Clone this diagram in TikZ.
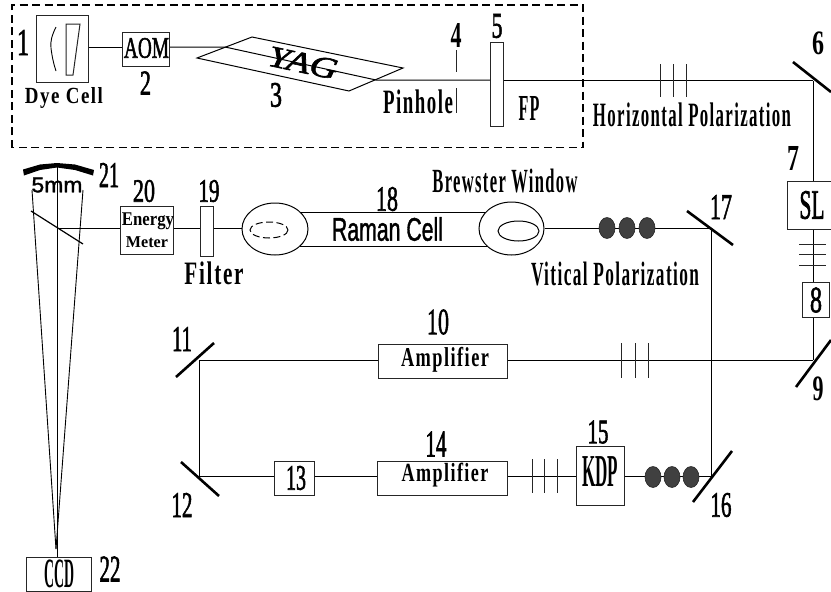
\documentclass[tikz,border=0pt]{standalone}
\usepackage{fontspec}
\usepackage{graphicx}
\usetikzlibrary{shapes.geometric}
\setmainfont{Liberation Serif}
\setsansfont{Liberation Sans}
\newfontfamily\semi[LetterSpace=8]{Liberation Serif}
\newfontfamily\numf[FakeBold=2]{Liberation Serif}
\newfontfamily\sansb[FakeBold=1.5]{Liberation Sans}
\newcommand\fitb[3]{\resizebox*{#1pt}{#2pt}{\semi\bfseries #3}}
\newcommand\fitr[3]{\resizebox*{#1pt}{#2pt}{\numf #3}}
\newcommand\fitk[3]{\resizebox*{#1pt}{#2pt}{\bfseries #3}}
\tikzset{
 beam/.style={line width=1pt,black},
 ray/.style={line width=0.9pt,black},
 boxn/.style={draw=black!85,line width=1pt,fill=white,inner sep=0pt,rectangle},
 lab/.style={inner sep=0pt,text=black},
 mir/.style={line width=2.6pt,black},
 pol/.style={ellipse,fill=black!75,draw=black!85,line width=0.6pt,minimum width=16pt,minimum height=21pt,inner sep=0pt},
 tickm/.style={line width=0.9pt,black!85},
 cell/.style={ellipse,draw=black,line width=1pt,fill=white,inner sep=0pt},
}
\begin{document}
\begin{tikzpicture}[x=1pt,y=-1pt]
\useasboundingbox (0,0) rectangle (831,592);
% coordinates
\coordinate (yagin) at (225,47);
\coordinate (yagout) at (376,80);
\coordinate (m6) at (813,80.5);
\coordinate (m9) at (813,360);
\coordinate (m11) at (199,360);
\coordinate (m12) at (199,476);
\coordinate (m16) at (711.5,476);
\coordinate (m17) at (711.5,228);
\coordinate (bs) at (57,228);
% dashed enclosure
\draw[line width=1.2pt,dash pattern=on 8pt off 4.5pt] (12,147.5) -- (12,5) -- (583,5) -- (583,147.5) -- cycle;
% nodes
\node[boxn,minimum width=52pt,minimum height=67pt] (dye) at (62,48.5) {};
\node[boxn,minimum width=47pt,minimum height=34pt] (aom) at (146,49) {};
\node[boxn,minimum width=13pt,minimum height=84pt] (fp) at (497,84) {};
\node[boxn,minimum width=48pt,minimum height=48pt] (sl) at (811,205) {};
\node[boxn,minimum width=27pt,minimum height=35pt] (b8) at (815.5,299.5) {};
\node[boxn,minimum width=129pt,minimum height=34pt] (amp10) at (442.5,361) {};
\node[boxn,minimum width=40pt,minimum height=34pt] (b13) at (294,478) {};
\node[boxn,minimum width=130pt,minimum height=34pt] (amp14) at (442,478) {};
\node[boxn,minimum width=48pt,minimum height=59pt] (kdp) at (600,475.5) {};
\node[boxn,minimum width=13pt,minimum height=50pt] (filt) at (206.5,231) {};
\node[boxn,minimum width=53pt,minimum height=48pt] (em) at (146.5,230) {};
\node[boxn,minimum width=65pt,minimum height=34pt] (ccd) at (58.5,574) {};
% Raman cell
\coordinate (tubeTL) at (300,212);
\coordinate (tubeTR) at (490,212);
\coordinate (tubeBL) at (300,246);
\coordinate (tubeBR) at (490,246);
\draw[beam] (tubeTL) -- (tubeTR);
\draw[beam] (tubeBL) -- (tubeBR);
\node[cell,minimum width=66pt,minimum height=52pt] (lc) at (275,229) {};
\node[cell,minimum width=65pt,minimum height=53pt] (rc) at (511.5,228.5) {};
\draw[line width=1pt,dash pattern=on 7pt off 3.5pt] (269,230) ellipse [x radius=19,y radius=8];
\draw[line width=1pt] (518.5,231) ellipse [x radius=20.5,y radius=10];
% YAG
\draw[line width=1pt] (197,58) -- (252,37) -- (403,68) -- (349,91) -- cycle;
% pinhole
\coordinate (p1) at (456,50);
\coordinate (p2) at (456,72);
\coordinate (p3) at (456,88);
\coordinate (p4) at (456,113);
\draw[tickm] (p1) -- (p2);
\draw[tickm] (p3) -- (p4);
% beams
\draw[beam] (dye.east |- yagin) -- (aom.west |- yagin);
\draw[beam] (aom.east |- yagin) -- (yagin) -- (yagout) -- (fp.west |- yagout);
\draw[beam] (fp.east |- m6) -- (m6);
\draw[beam] (m6) -- (m6 |- sl.north);
\draw[beam] (m6 |- sl.south) -- (m6 |- b8.north);
\draw[beam] (m6 |- b8.south) -- (m9);
\draw[beam] (m9) -- (amp10.east |- m9);
\draw[beam] (amp10.west |- m9) -- (m11);
\draw[beam] (m11) -- (m12);
\draw[beam] (m12) -- (b13.west |- m12);
\draw[beam] (b13.east |- m12) -- (amp14.west |- m12);
\draw[beam] (amp14.east |- m12) -- (kdp.west |- m12);
\draw[beam] (kdp.east |- m12) -- (m16);
\draw[beam] (m16) -- (m17);
\draw[beam] (m17) -- (rc.east |- m17);
\draw[beam] (lc.west |- m17) -- (filt.east |- m17);
\draw[beam] (filt.west |- m17) -- (em.east |- m17);
\draw[beam] (em.west |- m17) -- (bs);
% fan
\coordinate (fanL) at (32,190);
\coordinate (fanR) at (83,190);
\coordinate (fanT) at (57,163);
\coordinate (fanP) at (56,549);
\draw[ray] (fanT) -- (ccd.north -| fanT);
\draw[ray] (fanL) -- (fanP);
\draw[ray] (fanR) -- (fanP);
\coordinate (bsA) at (31,211);
\coordinate (bsB) at (83,244);
\draw[ray,line width=1.2pt] (bsA) -- (bsB);
\fill[black] (23,169.5) -- (40,164.5) -- (57,163) -- (75,164.5) -- (94,170) -- (93,175.5) -- (75,170) -- (57,167.5) -- (40,170) -- (24,175.5) -- cycle;
% dye cell inside
\draw[line width=1pt,black!85] (66,24) -- (80,24) -- (73,75) -- (66,75) -- cycle;
\draw[line width=0.9pt,black] (56,27) .. controls (52,35) and (50,42) .. (51,48) .. controls (52,57) and (54,65) .. (56,71);
% ticks
\foreach \x in {660,673,686}{\draw[tickm] (\x,64) -- (\x,97);}
\foreach \x in {621,635,648}{\draw[tickm] (\x,343) -- (\x,378);}
\foreach \x in {532,544,557}{\draw[tickm] (\x,459) -- (\x,493);}
\foreach \y in {244,254,265}{\draw[tickm] (799,\y) -- (826,\y);}
% mirrors
\draw[mir] (793,62) -- (831,92);
\draw[mir] (796,387) -- (831,340);
\draw[mir] (687,211) -- (733,245);
\draw[mir] (693,502) -- (732,451);
\draw[mir] (176,377) -- (214,343);
\draw[mir] (181,462) -- (219,496);
% polarization dots
\node[pol] (d1) at (607,228) {};
\node[pol] (d2) at (627,228) {};
\node[pol] (d3) at (647,228) {};
\node[pol] (d4) at (653,477) {};
\node[pol] (d5) at (672,477) {};
\node[pol] (d6) at (691,477) {};
% labels
\node[lab] (t1) at (23,42.5) {\fitr{12}{25}{1}};
\node[lab] (t2) at (145.5,83) {\fitr{11}{23}{2}};
\node[lab] (t3) at (276,95) {\fitr{12}{24}{3}};
\node[lab] (t4) at (456,35) {\fitk{11}{24}{4}};
\node[lab] (t5) at (497,26) {\fitr{11}{24}{5}};
\node[lab] (t6) at (818,43) {\fitk{12}{23}{6}};
\node[lab] (t7) at (793,158) {\fitk{12}{24}{7}};
\node[lab] (t8) at (816,300) {\fitr{12}{25}{8}};
\node[lab] (t9) at (818,389) {\fitk{11}{24}{9}};
\node[lab] (t10) at (438,322) {\fitr{22}{25}{10}};
\node[lab] (t11) at (182,339) {\fitr{20}{24}{11}};
\node[lab] (t12) at (182,505) {\fitr{21}{24}{12}};
\node[lab] (t13) at (296,478) {\fitr{20}{24}{13}};
\node[lab] (t14) at (436,444) {\fitr{21}{25}{14}};
\node[lab] (t15) at (598,432) {\fitr{21}{23}{15}};
\node[lab] (t16) at (721,505) {\fitr{21}{24}{16}};
\node[lab] (t17) at (721,207) {\fitr{22}{24}{17}};
\node[lab] (t18) at (387,199) {\fitr{22}{24}{18}};
\node[lab] (t19) at (209,191) {\fitr{21}{22}{19}};
\node[lab] (t20) at (144,191) {\fitr{22}{22}{20}};
\node[lab] (t21) at (109,175) {\fitr{20}{24}{21}};
\node[lab] (t22) at (110,569) {\fitr{21}{25}{22}};
\node[lab] (dyet) at (64,98) {\fitb{78}{21}{Dye Cell}};
\node[lab] (aomt) at (146.5,48) {\fitr{45}{20}{AOM}};
\node[lab,rotate=-12] (yagt) at (303,63) {\resizebox*{70pt}{20pt}{\numf\itshape YAG}};
\node[lab] (pint) at (418,102) {\fitb{70}{24}{Pinhole}};
\node[lab] (fpt) at (529,108) {\fitb{21}{24}{FP}};
\node[lab] (hp) at (692,115) {\fitb{198}{24}{Horizontal Polarization}};
\node[lab] (slt) at (812,205) {\fitr{25}{28}{SL}};
\node[lab] (bwt) at (505,181) {\fitb{145}{24}{Brewster Window}};
\node[lab] (rct) at (387.5,229) {\resizebox*{111pt}{24pt}{\sansb Raman Cell}};
\node[lab] (vpt) at (615,274) {\fitb{168}{24}{Vitical Polarization}};
\node[lab] (a10t) at (445,360) {\fitb{88}{25}{Amplifier}};
\node[lab] (a14t) at (445,475) {\fitb{87}{24}{Amplifier}};
\node[lab] (kdpt) at (600,472) {\fitk{36}{30}{KDP}};
\node[lab] (filtt) at (214,273) {\fitb{59}{23}{Filter}};
\node[lab] (ent) at (148,221) {\fitk{52}{17}{Energy}};
\node[lab] (met) at (147,242) {\fitk{42}{11}{Meter}};
\node[lab] (mmt) at (57,185) {\resizebox*{51pt}{15pt}{\sansb 5mm}};
\node[lab] (ccdt) at (60,574) {\fitk{30}{28}{CCD}};
\end{tikzpicture}
\end{document}
